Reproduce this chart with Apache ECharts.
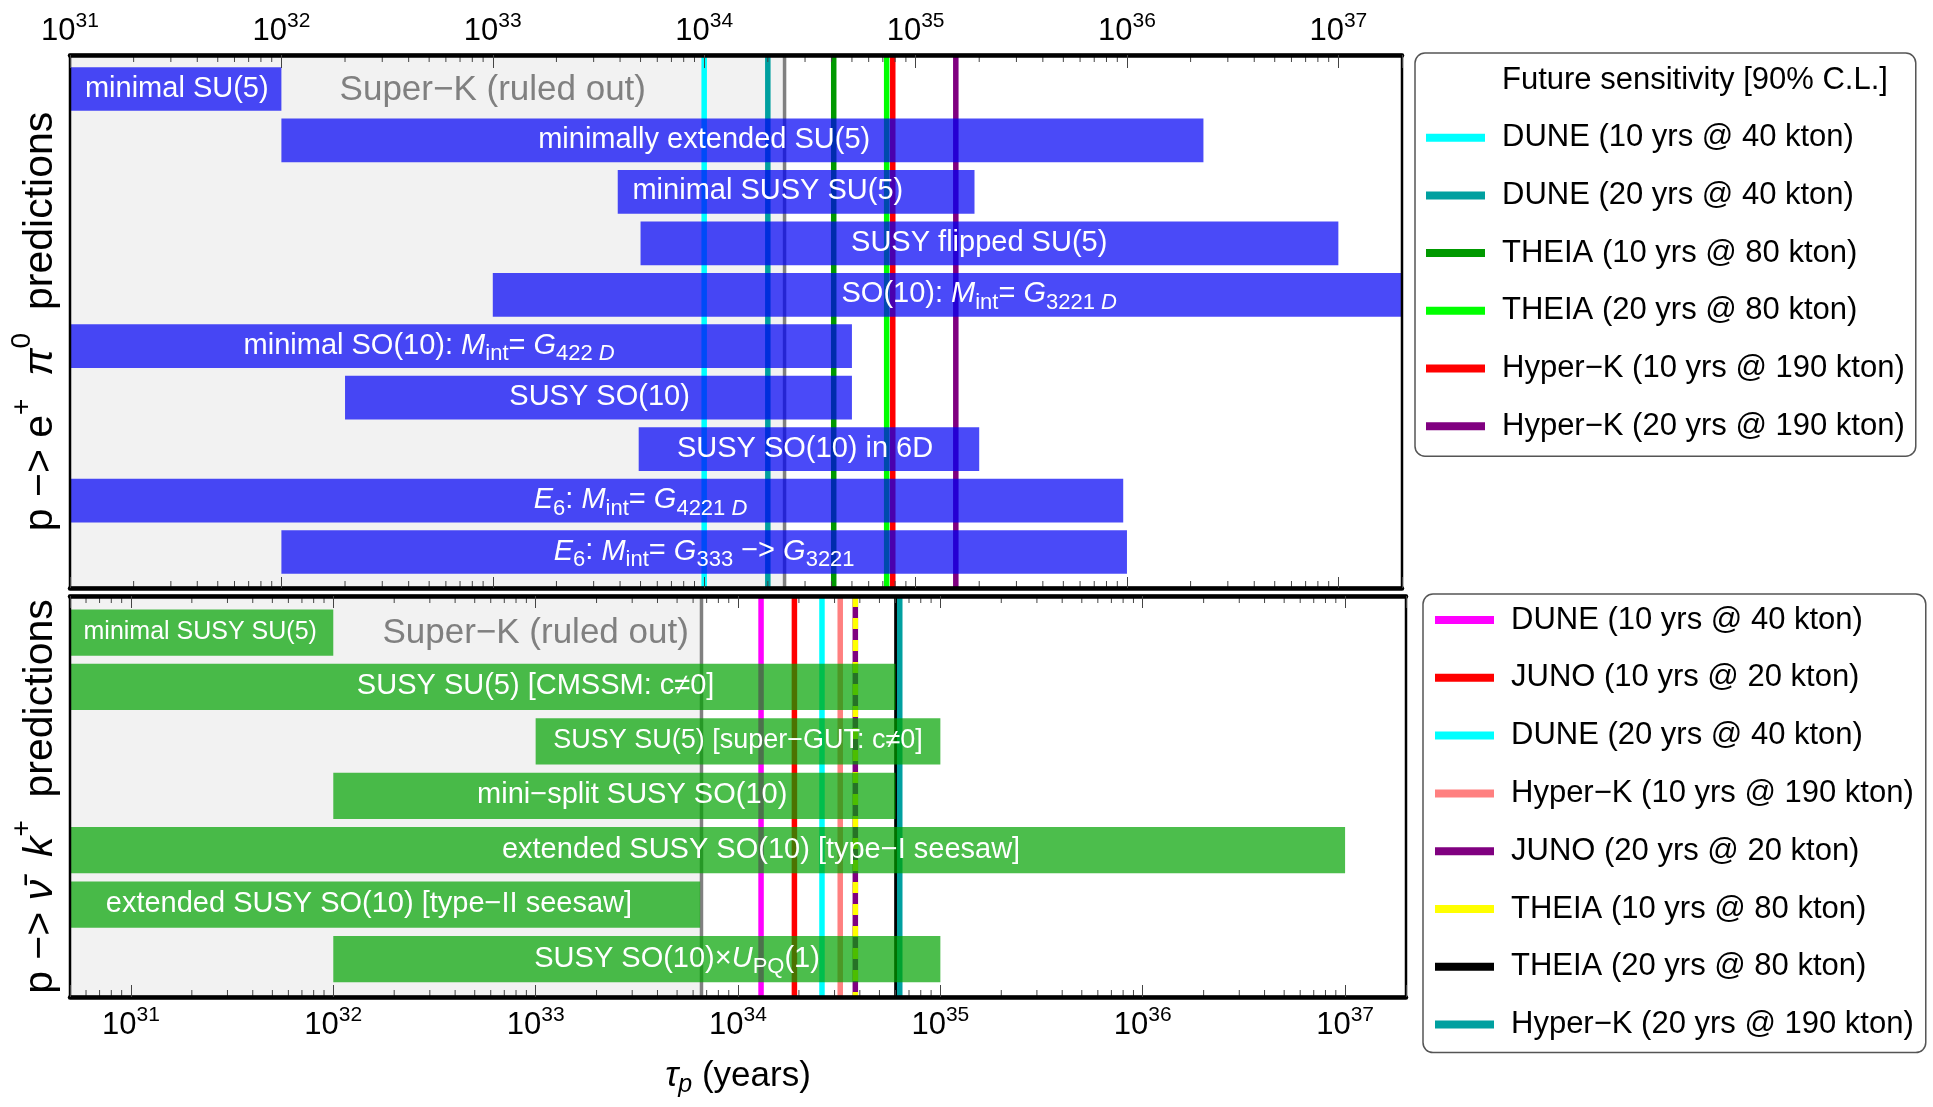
<!DOCTYPE html>
<html>
<head>
<meta charset="utf-8">
<script src="https://cdn.jsdelivr.net/npm/echarts@6/dist/echarts.min.js"></script>
<style>
html,body{margin:0;padding:0;background:#fff;}
#chart{width:1933px;height:1107px;}
</style>
</head>
<body>
<div id="chart"></div>
<script>
// ---------------- DATA ----------------
// Panel 1: p -> e+ pi0 predictions (lifetime ranges in years)
const epiModels = ['minimal SU(5)', 'minimally extended SU(5)', 'minimal SUSY SU(5)', 'SUSY flipped SU(5)',
  'SO(10): Mint=G3221D', 'minimal SO(10): Mint=G422D', 'SUSY SO(10)', 'SUSY SO(10) in 6D',
  'E6: Mint=G4221D', 'E6: Mint=G333->G3221'];
const epiLabels = [
  '{b|minimal SU(5)}',
  '{b|minimally extended SU(5)}',
  '{b|minimal SUSY SU(5)}',
  '{b|SUSY flipped SU(5)}',
  '{b|SO(10): }{i|M}{s|int}{b|= }{i|G}{s|3221 }{si|D}',
  '{b|minimal SO(10): }{i|M}{s|int}{b|= }{i|G}{s|422 }{si|D}',
  '{b|SUSY SO(10)}',
  '{b|SUSY SO(10) in 6D}',
  '{i|E}{s|6}{b|: }{i|M}{s|int}{b|= }{i|G}{s|4221 }{si|D}',
  '{i|E}{s|6}{b|: }{i|M}{s|int}{b|= }{i|G}{s|333}{b| −> }{i|G}{s|3221}'
];
const epiFrom    = [1e30, 1e32, 3.9e33, 5e33, 1e33, 1e30, 2e32, 4.9e33, 1e30, 1e32];
const epiTo      = [1e32, 2.3e36, 1.9e35, 1e37, 1e38, 5e34, 5e34, 2e35, 9.6e35, 1e36];
const epiLabelAt = [3.2e31, 1e34, 2e34, 2e35, 2e35, 5e32, 3.2e33, 3e34, 5e33, 1e34];

const epiDetectors = ['DUNE (10 yrs @ 40 kton)', 'DUNE (20 yrs @ 40 kton)', 'THEIA (10 yrs @ 80 kton)',
  'THEIA (20 yrs @ 80 kton)', 'Hyper−K (10 yrs @ 190 kton)', 'Hyper−K (20 yrs @ 190 kton)'];
const epiSensitivity = [1.0e34, 2.0e34, 4.1e34, 7.3e34, 7.8e34, 1.55e35];
const epiSuperK = 2.4e34;

// Panel 2: p -> nubar K+ predictions
const nkModels = ['minimal SUSY SU(5)', 'SUSY SU(5) [CMSSM]', 'SUSY SU(5) [super-GUT]', 'mini-split SUSY SO(10)',
  'extended SUSY SO(10) [type-I]', 'extended SUSY SO(10) [type-II]', 'SUSY SO(10)xU_PQ(1)'];
const nkLabels = [
  '{b25|minimal SUSY SU(5)}',
  '{b|SUSY SU(5) [CMSSM: c≠0]}',
  '{b27|SUSY SU(5) [super−GUT: c≠0]}',
  '{b|mini−split SUSY SO(10)}',
  '{b|extended SUSY SO(10) [type−I seesaw]}',
  '{b|extended SUSY SO(10) [type−II seesaw]}',
  '{b|SUSY SO(10)×}{i|U}{s|PQ}{b|(1)}'
];
const nkFrom    = [1e30, 1e30, 1e33, 1e32, 1e30, 1e30, 1e32];
const nkTo      = [1e32, 6e34, 1e35, 6e34, 1e37, 6.5e33, 1e35];
const nkLabelAt = [2.2e31, 1e33, 1e34, 3e33, 1.3e34, 1.5e32, 5e33];

const nkDetectors = ['DUNE (10 yrs @ 40 kton)', 'JUNO (10 yrs @ 20 kton)', 'DUNE (20 yrs @ 40 kton)',
  'Hyper−K (10 yrs @ 190 kton)', 'JUNO (20 yrs @ 20 kton)', 'THEIA (10 yrs @ 80 kton)',
  'THEIA (20 yrs @ 80 kton)', 'Hyper−K (20 yrs @ 190 kton)'];
const nkSensitivity = [1.3e34, 1.9e34, 2.6e34, 3.2e34, 3.8e34, 3.8e34, 6.1e34, 6.3e34];
const nkSuperK = 6.6e33;

const superKText = 'Super−K (ruled out)';
const superKLabelAt = 1e33;

// axis ranges
const epiRange = [1e31, 2e37];
const nkRange  = [5e30, 2e37];
const epiRows = [0.339, 10.70];
const nkRows  = [0.329, 7.698];

// ---------------- STYLES ----------------
const FONT = "'Liberation Sans', Arial, Helvetica, sans-serif";
const epiColors = ['#00ffff', '#00a0a0', '#009900', '#00ff00', '#ff0000', '#800080'];
const nkColors  = ['#ff00ff', '#ff0000', '#00ffff', '#ff8080', '#800080', '#ffff00', '#000000', '#00a0a0'];
const nkDash    = ['solid', 'solid', 'solid', 'solid', 'solid', [11, 11], 'solid', 'solid'];
const BLUE = 'rgba(0,0,245,0.71)';
const GREEN = 'rgba(0,163,0,0.7)';

function tok(size, pad, extra) {
  return Object.assign({fontSize: size, padding: pad, fontFamily: FONT, verticalAlign: 'top', fill: '#fff', color: '#fff'}, extra || {});
}
const barRich = {
  b:   tok(29, [4, 0, 5, 0]),
  i:   tok(29, [4, 0, 5, 0], {fontStyle: 'italic'}),
  b25: tok(25, [6, 0, 7, 0]),
  b27: tok(27, [5, 0, 6, 0]),
  s:   tok(22, [16, 0, 0, 0]),
  si:  tok(22, [16, 0, 0, 0], {fontStyle: 'italic'})
};

function barSeries(name, xi, yi, from, to, at, labels, color) {
  return {
    type: 'custom', name: name, xAxisIndex: xi, yAxisIndex: yi, z: 4, silent: true,
    encode: {x: [0, 1, 3], y: 2},
    data: from.map((f, i) => [f, to[i], i + 1, at[i]]),
    renderItem: function (params, api) {
      const cs = params.coordSys;
      const row = api.value(2);
      const a = api.coord([api.value(0), row - 0.425]);
      const b = api.coord([api.value(1), row + 0.425]);
      const rect = echarts.graphic.clipRectByRect(
        {x: Math.min(a[0], b[0]), y: Math.min(a[1], b[1]), width: Math.abs(b[0] - a[0]), height: Math.abs(b[1] - a[1])},
        {x: cs.x, y: cs.y, width: cs.width, height: cs.height});
      const c = api.coord([api.value(3), row]);
      const children = [];
      if (rect) children.push({type: 'rect', shape: rect, style: {fill: color}});
      children.push({type: 'text', x: c[0], y: c[1], z2: 10,
        style: {text: labels[params.dataIndex], rich: barRich, fill: '#fff',
          align: 'center', verticalAlign: 'middle', textAlign: 'center', textVerticalAlign: 'middle'}});
      return {type: 'group', children: children};
    }
  };
}

function superKSeries(xi, yi, limit) {
  return {
    type: 'custom', xAxisIndex: xi, yAxisIndex: yi, z: 1, silent: true,
    encode: {x: [0, 1, 3], y: 2},
    data: [[1e30, limit, 1, superKLabelAt]],
    renderItem: function (params, api) {
      const cs = params.coordSys;
      const p = api.coord([api.value(1), 1]);
      const c = api.coord([api.value(3), api.value(2)]);
      return {type: 'group', children: [
        {type: 'rect', shape: {x: cs.x, y: cs.y, width: p[0] - cs.x, height: cs.height}, style: {fill: '#f2f2f2'}},
        {type: 'text', x: c[0], y: c[1] + 1, z2: 10,
          style: {text: superKText, fill: '#808080', fontSize: 35, fontFamily: FONT,
            align: 'center', verticalAlign: 'middle', textAlign: 'center', textVerticalAlign: 'middle'}}
      ]};
    }
  };
}

function vline(name, xi, yi, value, rows, color, width, dash, z) {
  return {
    type: 'line', name: name, xAxisIndex: xi, yAxisIndex: yi, z: z || 2, silent: true,
    symbol: 'none', color: color, itemStyle: {color: color},
    lineStyle: {color: color, width: width, type: dash || 'solid', cap: 'butt'},
    data: [[value, rows[0]], [value, rows[1]]]
  };
}

function minorTickValues(range) {
  const vals = [];
  for (let e = 29; e <= 38; e++) {
    for (let k = 2; k <= 9; k++) {
      const v = k * Math.pow(10, e);
      if (v > range[0] * 1.0001 && v < range[1] * 0.9999) vals.push([v, 1]);
    }
  }
  return vals;
}
function minorTickSeries(xi, yi, range) {
  return {
    type: 'custom', xAxisIndex: xi, yAxisIndex: yi, z: 8, silent: true,
    encode: {x: 0, y: 1},
    data: minorTickValues(range),
    renderItem: function (params, api) {
      const cs = params.coordSys;
      const x = api.coord([api.value(0), 1])[0];
      const st = {stroke: '#444', lineWidth: 1};
      return {type: 'group', children: [
        {type: 'line', shape: {x1: x, y1: cs.y, x2: x, y2: cs.y + 7}, style: st},
        {type: 'line', shape: {x1: x, y1: cs.y + cs.height, x2: x, y2: cs.y + cs.height - 7}, style: st}
      ]};
    }
  };
}

function powLabel(v) {
  const l = Math.log10(v);
  const e = Math.round(l);
  if (Math.abs(l - e) > 1e-6) return '';
  return '{n|10}{e|' + e + '}';
}
const tickRich = {
  n: {fontSize: 31, padding: [8, 0, 0, 0], verticalAlign: 'top', fontFamily: FONT, color: '#000'},
  e: {fontSize: 21, padding: [3, 0, 0, 0], verticalAlign: 'top', fontFamily: FONT, color: '#000'}
};

function xAxis(grid, pos, range, showLabel, tickLen) {
  return {
    type: 'log', logBase: 10, gridIndex: grid, position: pos, min: range[0], max: range[1], z: 11,
    axisLine: {show: true, onZero: false, lineStyle: {color: '#000', width: 4.5}},
    axisTick: {show: true, inside: true, length: tickLen, lineStyle: {color: '#444', width: 1}},
    axisLabel: {show: showLabel, formatter: powLabel, rich: tickRich, margin: pos === 'top' ? 8 : 5},
    splitLine: {show: false}, minorTick: {show: false}, minorSplitLine: {show: false}
  };
}

const titleRich = {
  t:   {fontSize: 41, padding: [12, 0, 0, 0], verticalAlign: 'top', fontFamily: FONT, color: '#000'},
  ti:  {fontSize: 41, padding: [12, 0, 0, 0], verticalAlign: 'top', fontFamily: FONT, color: '#000', fontStyle: 'italic'},
  sup: {fontSize: 28, padding: [0, 0, 0, 0], verticalAlign: 'top', fontFamily: FONT, color: '#000'}
};

function yAxis(grid, rows, name) {
  return {
    type: 'value', gridIndex: grid, min: rows[0], max: rows[1], inverse: true,
    axisLine: {show: false}, axisTick: {show: false}, axisLabel: {show: false}, splitLine: {show: false},
    name: name, nameLocation: 'middle', nameRotate: 90, nameGap: 9,
    nameTextStyle: {rich: titleRich}
  };
}

const legendIcon = 'path://M0,0H59V8H0Z M70.9,3.99H71V4.01H70.9Z';
const LEGEND_TITLE = 'Future sensitivity [90% C.L.]';

const series = [];
// panel 1
series.push(superKSeries(0, 0, epiSuperK));
series.push(vline('SuperK-epi', 0, 0, epiSuperK, epiRows, '#808080', 3.5, 'solid', 2));
series.push({type: 'line', name: LEGEND_TITLE, xAxisIndex: 0, yAxisIndex: 0, data: [], symbol: 'none',
  color: 'rgba(0,0,0,0)', itemStyle: {color: 'rgba(0,0,0,0)'}, lineStyle: {color: 'rgba(0,0,0,0)'}});
epiDetectors.forEach((d, i) => series.push(vline(d, 0, 0, epiSensitivity[i], epiRows, epiColors[i], 5.5, 'solid', 2)));
series.push(barSeries('epi-models', 0, 0, epiFrom, epiTo, epiLabelAt, epiLabels, BLUE));
series.push(minorTickSeries(0, 0, epiRange));
// panel 2
series.push(superKSeries(2, 1, nkSuperK));
series.push(vline('SuperK-nk', 2, 1, nkSuperK, nkRows, '#808080', 3.5, 'solid', 2));
nkDetectors.forEach((d, i) => series.push(vline('K:' + d, 2, 1, nkSensitivity[i], nkRows, nkColors[i], 5.5, nkDash[i], 2)));
series.push(barSeries('nk-models', 2, 1, nkFrom, nkTo, nkLabelAt, nkLabels, GREEN));
series.push(minorTickSeries(2, 1, nkRange));

const option = {
  animation: false,
  backgroundColor: '#fff',
  textStyle: {fontFamily: FONT},
  grid: [
    {left: 68, top: 55, width: 1334, height: 533, show: true, z: 10, borderColor: '#000', borderWidth: 2.5, backgroundColor: 'rgba(0,0,0,0)'},
    {left: 67, top: 596, width: 1339, height: 401, show: true, z: 10, borderColor: '#000', borderWidth: 2.5, backgroundColor: 'rgba(0,0,0,0)'}
  ],
  xAxis: [
    xAxis(0, 'top', epiRange, true, 13),
    xAxis(0, 'bottom', epiRange, false, 11),
    Object.assign(xAxis(1, 'bottom', nkRange, true, 12), {
      name: '{ti|τ}{si|p}{t| (years)}', nameLocation: 'middle', nameGap: 62,
      nameTextStyle: {rich: {
        t:  {fontSize: 35, verticalAlign: 'top', fontFamily: FONT, color: '#000'},
        ti: {fontSize: 35, verticalAlign: 'top', fontFamily: FONT, color: '#000', fontStyle: 'italic'},
        si: {fontSize: 25, padding: [14, 0, 0, 0], verticalAlign: 'top', fontFamily: FONT, color: '#000', fontStyle: 'italic'}
      }}
    }),
    xAxis(1, 'top', nkRange, false, 12)
  ],
  yAxis: [
    yAxis(0, epiRows, '{t|p −> e}{sup|+}{t|  }{ti|π}{sup|0}{t|  predictions}'),
    yAxis(1, nkRows, '{t|p −> }{ti|ν̄}{t|  }{ti|k}{sup|+}{t|  predictions}')
  ],
  legend: [
    {
      orient: 'vertical', left: 1415, top: 53, padding: [11.5, 11, 14.5, 11], itemGap: 26.7,
      itemWidth: 71, itemHeight: 8, icon: legendIcon, selectedMode: false,
      borderColor: '#555', borderWidth: 1.5, borderRadius: 10,
      textStyle: {fontSize: 31, lineHeight: 31, fontFamily: FONT, color: '#000'},
      data: [LEGEND_TITLE].concat(epiDetectors)
    },
    {
      orient: 'vertical', left: 1423, top: 594, padding: [10.5, 12, 12.5, 12], itemGap: 26.8,
      itemWidth: 71, itemHeight: 8, icon: legendIcon, selectedMode: false,
      borderColor: '#555', borderWidth: 1.5, borderRadius: 10,
      textStyle: {fontSize: 31, lineHeight: 31, fontFamily: FONT, color: '#000'},
      formatter: n => n.replace(/^K:/, ''),
      data: nkDetectors.map(d => 'K:' + d)
    }
  ],
  series: series
};

const chart = echarts.init(document.getElementById('chart'), null, {renderer: 'canvas'});
chart.setOption(option);
</script>
</body>
</html>
